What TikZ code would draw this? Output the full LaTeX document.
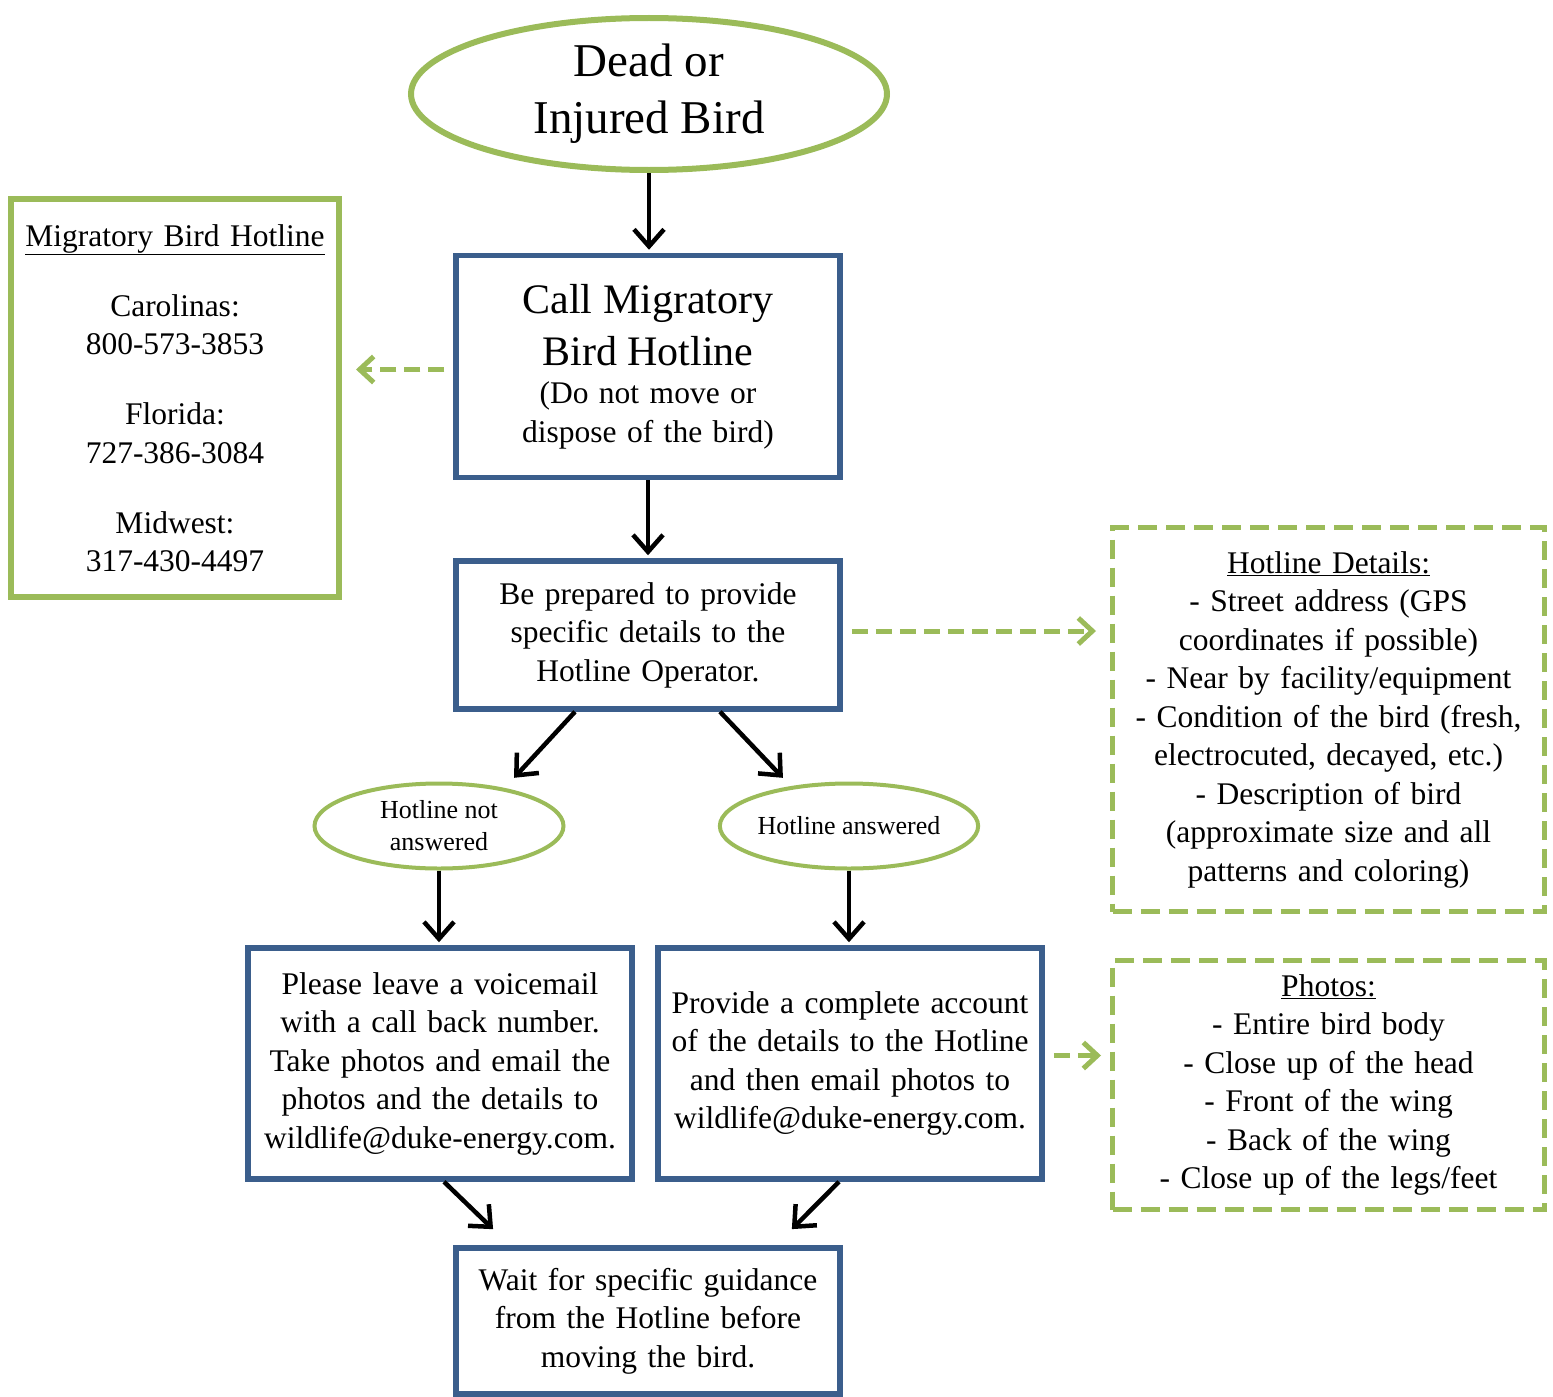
\documentclass[tikz,border=0pt]{standalone}
\usepackage{fontspec}
\setmainfont{Liberation Serif}
\usetikzlibrary{arrows.meta,shapes.geometric}
\definecolor{leaf}{HTML}{9BBB59}
\definecolor{navy}{HTML}{3B5E8C}

\begin{document}
\begin{tikzpicture}[x=1pt,y=-1pt,
      body/.style={font=\fontsize{31.5}{38.5}\selectfont,align=center},
      b/.style={body,draw=navy,line width=5.5pt,inner sep=0pt,text width=376pt,
                minimum width=384pt},
      oval/.style={ellipse,draw=leaf,inner sep=0pt,align=center},
      note/.style={body,draw=leaf,line width=5pt,inner sep=0pt,
                   dash pattern=on 19pt off 9pt},
      arr/.style={-{Straight Barb[length=17pt,width=30pt]},line width=4.5pt,
                  shorten >=3pt},
      garr/.style={-{Straight Barb[length=14pt,width=26pt]},leaf,line width=5pt,
                   dash pattern=on 16pt off 8pt,shorten <=9pt,shorten >=14pt}]
    \useasboundingbox (0,0) rectangle (1553,1397);

    % main column
    \node[oval,line width=6pt,minimum width=476pt,minimum height=152pt,
          font=\fontsize{47}{57}\selectfont] (bird) at (649,94)
      {Dead or\\Injured Bird};
    \node[b,minimum height=222pt] (call) at (648,366.5)
      {{\fontsize{42}{52}\selectfont Call Migratory\\Bird Hotline\par}
       (Do not move or\\dispose of the bird)};
    \node[b,minimum height=148pt] (prep) at (648,635)
      {Be prepared to provide\\specific details to the\\Hotline Operator.};
    \node[oval,line width=4pt,minimum width=249pt,minimum height=85pt,
          font=\fontsize{26}{32}\selectfont] (nans) at (439,826)
      {Hotline not\\answered};
    \node[oval,line width=4pt,minimum width=251pt,minimum height=85pt,
          font=\fontsize{26}{32}\selectfont] (ans) at (849,826)
      {Hotline answered};
    \node[b,minimum height=231pt] (leave) at (440,1063.5)
      {Please leave a voicemail\\with a call back number.\\Take photos and email the\\
       photos and the details to\\wildlife@duke-energy.com.};
    \node[b,minimum height=231pt] (acct) at (850,1063.5)
      {Provide a complete account\\of the details to the Hotline\\and then email photos to\\
       wildlife@duke-energy.com.};
    \node[b,minimum height=146pt] (wait) at (648,1321)
      {Wait for specific guidance\\from the Hotline before\\moving the bird.};

    % side notes
    \node[body,draw=leaf,line width=6pt,inner sep=0pt,text width=320pt,
          minimum width=328pt,minimum height=398pt] (hot) at (175,398)
      {\underline{Migratory Bird Hotline}\\[31.5pt]
       Carolinas:\\800-573-3853\\[31.5pt]
       Florida:\\727-386-3084\\[31.5pt]
       Midwest:\\317-430-4497};
    \node[note,text width=424pt,minimum width=432pt,minimum height=384pt] (det)
      at (1328.5,719.5)
      {\underline{Hotline Details:}\\- Street address (GPS\\coordinates if possible)\\
       - Near by facility/equipment\\- Condition of the bird (fresh,\\
       electrocuted, decayed, etc.)\\- Description of bird\\
       (approximate size and all\\patterns and coloring)};
    \node[note,text width=424pt,minimum width=432pt,minimum height=249pt] (pho)
      at (1328.5,1085)
      {\underline{Photos:}\\- Entire bird body\\- Close up of the head\\
       - Front of the wing\\- Back of the wing\\- Close up of the legs/feet};

    % flow
    \draw[arr] (bird) -- (bird.south |- call.north);
    \draw[arr] (call) -- (call.south |- prep.north);
    \draw[arr] ([xshift=-73pt]prep.south) -- ([xshift=73pt,yshift=46pt]nans.center);
    \draw[arr] ([xshift=72pt]prep.south) -- ([xshift=-64pt,yshift=46pt]ans.center);
    \draw[arr] (nans) -- (nans.south |- leave.north);
    \draw[arr] (ans) -- (ans.south |- acct.north);
    \draw[arr] ([xshift=4pt]leave.south) -- ([xshift=42pt,yshift=14pt]wait.north west);
    \draw[arr] ([xshift=-11pt]acct.south) -- ([xshift=-53pt,yshift=14pt]wait.north east);

    % dashed pointers to the notes
    \draw[garr] ([yshift=-3pt]call.west) -- ([yshift=-3pt]call.west -| hot.east);
    \draw[garr] ([yshift=4pt]prep.east) -- ([yshift=4pt]prep.east -| det.west);
    \draw[garr,shorten >=9pt] ([yshift=8pt]acct.east) -- ([yshift=8pt]acct.east -| pho.west);
\end{tikzpicture}
\end{document}
